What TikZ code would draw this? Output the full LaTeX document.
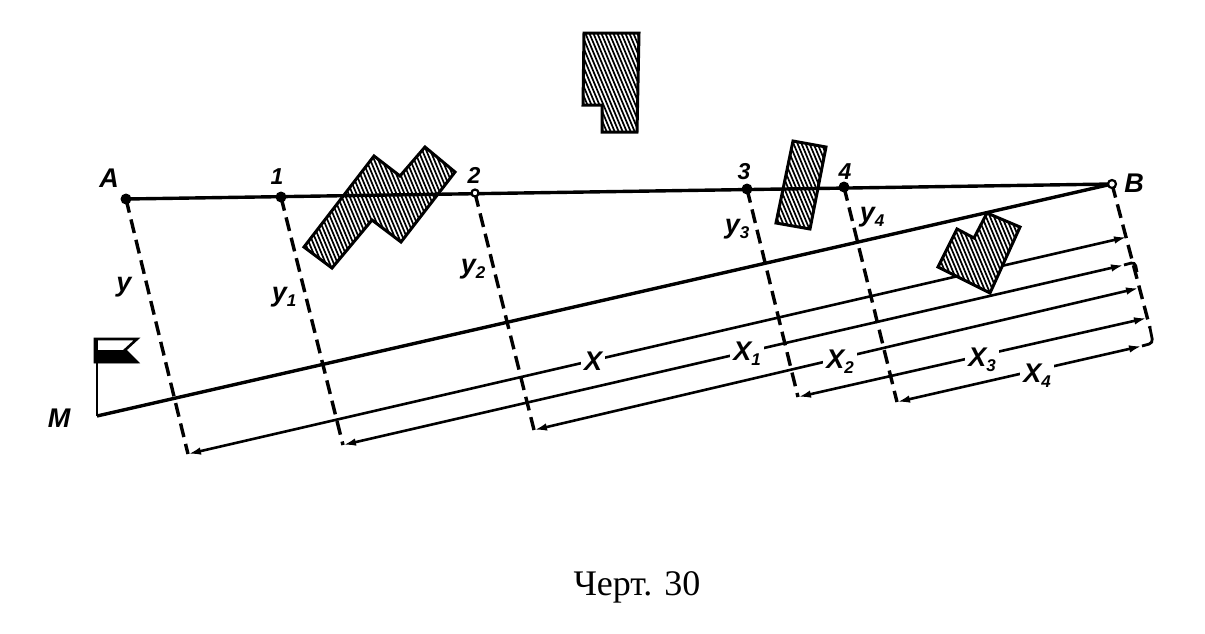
\documentclass[tikz,border=0pt]{standalone}
\usepackage{fontspec}
\setmainfont{Liberation Serif}
\newfontfamily\lab{Liberation Sans}[BoldFont={Liberation Sans Bold Italic}]
\usetikzlibrary{arrows.meta}
\newcommand{\hatched}[5]{%
  \fill[white] #1 -- cycle;
  \begin{scope}
    \clip #1 -- cycle;
    \foreach \i in {#2,\the\numexpr#2+4\relax,...,#3}{
      \draw[line width=1.7pt] (\i,#4) -- ++({(#5-(#4))*0.42},{#5-(#4)});
    }
  \end{scope}
  \draw[line width=3pt,line join=miter] #1 -- cycle;
}
\tikzset{
  mainline/.style={line width=3.4pt},
  dimline/.style={line width=2.6pt,{Latex[length=13pt,width=7.5pt]}-{Latex[length=13pt,width=7.5pt]}},
  dashline/.style={line width=3.4pt,dash pattern=on 14pt off 7pt},
  stub/.style={line width=2.8pt,rounded corners=4pt},
  caps/.style={font=\lab\bfseries\fontsize{27}{27}\selectfont,inner sep=1pt},
  digit/.style={font=\lab\bfseries\fontsize{23}{23}\selectfont,inner sep=1pt},
  onln/.style={caps,fill=white,inner xsep=3pt,inner ysep=0pt},
  fulldot/.style={circle,fill=black,inner sep=0pt,minimum size=11pt},
  opendot/.style={circle,draw=black,fill=white,line width=2.2pt,inner sep=0pt,minimum size=8pt}
}
\newcommand{\subn}[1]{\raisebox{-5pt}{\fontsize{17}{17}\selectfont #1}}
\begin{document}
\begin{tikzpicture}[x=1pt,y=-1pt]
\useasboundingbox (0,0) rectangle (1205,633);
% points
\coordinate (A) at (126,199);
\coordinate (P1) at (281,197);
\coordinate (P2) at (475,193);
\coordinate (P3) at (747,189);
\coordinate (P4) at (844,187);
\coordinate (B) at (1112,184);
\coordinate (M) at (97,416);
\coordinate (FT) at (97,339);
% corners on the left
\coordinate (C0) at (188,454);
\coordinate (C1) at (343,445);
\coordinate (C2) at (534,430);
\coordinate (C3) at (798,397);
\coordinate (C4) at (897,402);
% arrow ends on the right
\coordinate (E0) at (1127,237);
\coordinate (E1) at (1124,265);
\coordinate (E2) at (1139,288);
\coordinate (E3) at (1147,318);
\coordinate (E4) at (1142,346);
\coordinate (K1) at (1137,272);
\coordinate (K4) at (1150,328);
\coordinate (C4r) at (1153,343);
\coordinate (K1c) at (1135,262);
% dim lines
\draw[dimline] (C0) -- (E0);
\draw[dimline] (C1) -- (E1);
\draw[dimline] (C2) -- (E2);
\draw[dimline] (C3) -- (E3);
\draw[dimline] (C4) -- (E4);
\draw[stub] (E1) -- (K1c) -- (K1);
\draw[stub] (E4) -- (C4r) -- (K4);
% dashed perpendiculars
\draw[dashline] (A) -- (C0);
\draw[dashline] (P1) -- (C1);
\draw[dashline] (P2) -- (C2);
\draw[dashline] (P3) -- (C3);
\draw[dashline] (P4) -- (C4);
\draw[dashline] (B) -- (K4);
% buildings
\hatched{(584,33) -- (639,33) -- (637,132) -- (602,132) -- (602,105) -- (583,105)}{520}{640}{30}{135}
\hatched{(304,247) -- (374,156) -- (400,176) -- (425,147) -- (455,172) -- (401,242) -- (372,220) -- (332,268)}{240}{460}{145}{270}
\hatched{(793,141) -- (826,147) -- (810,229) -- (776,223)}{720}{830}{140}{230}
\hatched{(957,229) -- (974,238) -- (987,213) -- (1020,227) -- (990,293) -- (938,267)}{880}{1020}{212}{295}
% main lines
\draw[mainline] (A) -- (B);
\draw[mainline] (M) -- (B);
% flag
\draw[line width=2.8pt] (M) -- (FT);
\draw[line width=2.6pt] (95,339) -- (137,339) -- (125,350) -- (137,362) -- (95,362) -- cycle;
\fill (94,350) -- (125,350) -- (138,363) -- (94,363) -- cycle;
% points
\node[fulldot] (nA) at (A) {};
\node[fulldot] (n1) at (P1) {};
\node[opendot,minimum size=7pt] (n2) at (P2) {};
\node[fulldot] (n3) at (P3) {};
\node[fulldot] (n4) at (P4) {};
\node[opendot] (nB) at (B) {};
% labels
\node[caps] (lA) at (109,178) {A};
\node[digit] (l1) at (277,177) {1};
\node[digit] (l2) at (474,175) {2};
\node[digit] (l3) at (744,172) {3};
\node[digit] (l4) at (845,172) {4};
\node[caps] (lB) at (1134,183) {B};
\node[caps] (lM) at (59,418) {M};
\node[caps] (ly) at (124,287) {y};
\node[caps] (ly1) at (284,297) {y\subn{1}};
\node[caps] (ly2) at (473,269) {y\subn{2}};
\node[caps] (ly3) at (737,229) {y\subn{3}};
\node[caps] (ly4) at (872,217) {y\subn{4}};
\node[onln] (lx) at (593,361) {X};
\node[onln] (lx1) at (747,354) {X\subn{1}};
\node[onln] (lx2) at (840,362) {X\subn{2}};
\node[onln] (lx3) at (982,360) {X\subn{3}};
\node[onln] (lx4) at (1037,376) {X\subn{4}};
\node[font=\fontsize{36}{36}\selectfont] (cap) at (637,587) {Черт. 30};
\end{tikzpicture}
\end{document}
